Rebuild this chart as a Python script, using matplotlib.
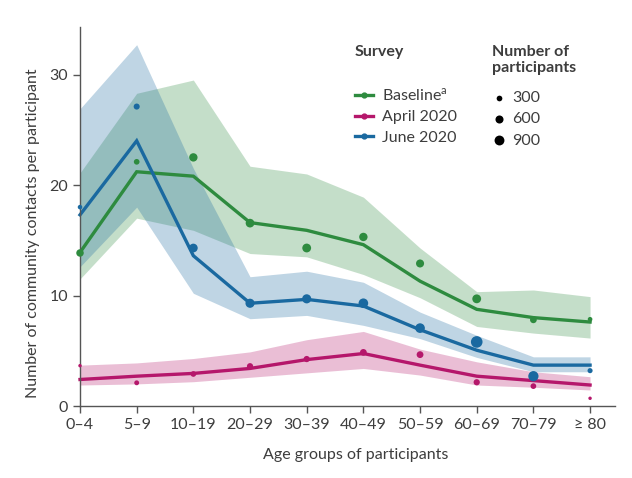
import numpy as np
import matplotlib.pyplot as plt
from matplotlib.lines import Line2D

plt.rcParams['font.family'] = ['Lato', 'DejaVu Sans']

# Grupos de edad
grupos = ['0\u20134', '5\u20139', '10\u201319', '20\u201329', '30\u201339',
          '40\u201349', '50\u201359', '60\u201369', '70\u201379', '\u2265 80']

# Baseline
base_ajuste = [13.9, 21.2, 20.8, 16.6, 15.9, 14.6, 11.3, 8.75, 8.0, 7.6]
base_inf = [11.5, 17.0, 15.9, 13.8, 13.5, 11.9, 9.8, 7.2, 6.6, 6.15]
base_sup = [21.1, 28.3, 29.5, 21.7, 21.0, 18.9, 14.3, 10.35, 10.5, 9.9]
base_obs = [13.85, 22.1, 22.5, 16.55, 14.3, 15.3, 12.9, 9.7, 7.8, 7.85]
base_n = [520, 300, 650, 700, 720, 650, 600, 720, 420, 200]

# April 2020
abr_ajuste = [2.4, 2.7, 2.95, 3.4, 4.2, 4.75, 3.7, 2.7, 2.3, 1.9]
abr_inf = [1.9, 2.0, 2.2, 2.6, 3.0, 3.4, 2.8, 1.9, 1.7, 1.45]
abr_sup = [3.7, 3.9, 4.3, 4.9, 6.0, 6.75, 5.15, 4.0, 3.1, 2.65]
abr_obs = [3.65, 2.1, 2.9, 3.6, 4.25, 4.85, 4.65, 2.15, 1.8, 0.7]
abr_n = [110, 220, 300, 360, 360, 430, 430, 360, 300, 110]

# June 2020
jun_ajuste = [17.3, 24.0, 13.6, 9.3, 9.65, 9.05, 6.9, 5.05, 3.7, 3.7]
jun_inf = [12.6, 18.0, 10.2, 7.9, 8.2, 7.3, 6.1, 4.4, 3.1, 3.1]
jun_sup = [26.9, 32.7, 21.5, 11.7, 12.2, 11.2, 8.5, 6.4, 4.45, 4.45]
jun_obs = [18.0, 27.1, 14.3, 9.3, 9.7, 9.3, 7.05, 5.8, 2.7, 3.2]
jun_n = [190, 340, 700, 770, 770, 860, 860, 1250, 970, 240]

tamanos_ley = [300, 600, 900]

verde = '#2e8b3f'
rosa = '#b5176b'
azul = '#1a69a0'
gris = '#3d3d3d'

def escala(n):
    return np.array(n) * 0.056

fig = plt.figure(figsize=(6.32, 4.78), dpi=100)
ax = fig.add_axes([0.1266, 0.1506, 0.8465, 0.7929])

x = np.arange(len(grupos))
series = [(base_ajuste, base_inf, base_sup, base_obs, base_n, verde),
          (abr_ajuste, abr_inf, abr_sup, abr_obs, abr_n, rosa),
          (jun_ajuste, jun_inf, jun_sup, jun_obs, jun_n, azul)]

for ajuste, inf, sup, obs, n, color in series:
    ax.fill_between(x, inf, sup, color=color, alpha=0.28, lw=0, clip_on=False)
for ajuste, inf, sup, obs, n, color in series:
    ax.plot(x, ajuste, color=color, lw=2.4, clip_on=False, solid_joinstyle='miter')
    ax.scatter(x, obs, s=escala(n), color=color, lw=0, clip_on=False, zorder=3)

ax.set_xlim(0, 9.44)
ax.set_ylim(0, 34.3)
ax.set_xticks(x)
ax.set_xticklabels(grupos)
ax.set_yticks([0, 10, 20, 30])
for s in ['top', 'right']:
    ax.spines[s].set_visible(False)
for s in ['left', 'bottom']:
    ax.spines[s].set_color('#555555')
    ax.spines[s].set_linewidth(1.0)
ax.tick_params(colors='#555555', labelcolor=gris, labelsize=11.5, length=5, width=1)
ax.set_xlabel('Age groups of participants', fontsize=11.5, color=gris)
ax.set_ylabel('Number of community contacts per participant', fontsize=11.5,
              color=gris)
ax.xaxis.set_label_coords(0.516, -0.11)
ax.yaxis.set_label_coords(-0.075, 0.456)

# Leyenda de encuestas
ax.text(0.514, 0.934, 'Survey', transform=ax.transAxes, fontsize=11.5,
        fontweight='bold', color=gris, va='center', ha='left')
h1 = [Line2D([], [], color=c, lw=2.4, marker='o', ms=3.5) for c in [verde, rosa, azul]]
ley1 = ax.legend(h1, ['Baseline$^\\mathregular{a}$', 'April 2020', 'June 2020'],
                 loc='upper left', bbox_to_anchor=(0.514, 0.842),
                 frameon=False, fontsize=11.5, handlelength=1.1, handletextpad=0.6,
                 labelspacing=0.4, labelcolor=gris, borderpad=0, borderaxespad=0)
ax.add_artist(ley1)

# Leyenda de tamaños
ax.text(0.770, 0.913, 'Number of\nparticipants', transform=ax.transAxes,
        fontsize=11.5, fontweight='bold', color=gris, va='center', ha='left',
        linespacing=1.2)
h2 = [plt.scatter([], [], s=escala([t])[0], color='black', lw=0) for t in tamanos_ley]
ley2 = ax.legend(h2, [str(t) for t in tamanos_ley],
                 loc='upper left', bbox_to_anchor=(0.772, 0.832), frameon=False,
                 fontsize=11.5, handlelength=0.8, handletextpad=0.4,
                 labelspacing=0.45, labelcolor=gris, borderpad=0, borderaxespad=0)

fig.savefig('out.png', dpi=100)
